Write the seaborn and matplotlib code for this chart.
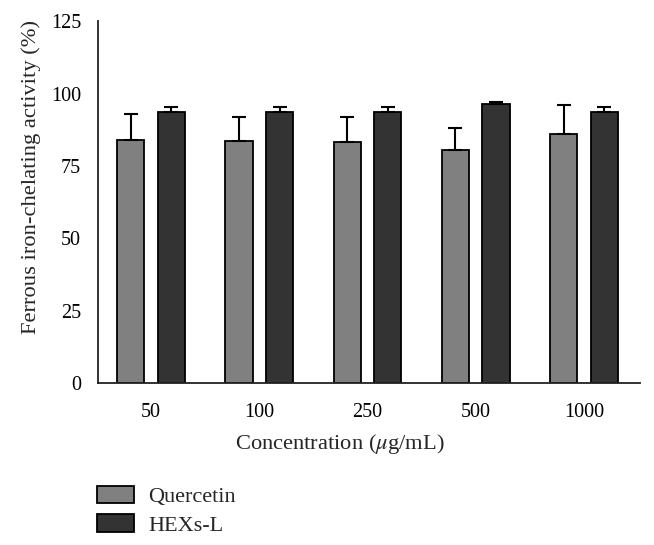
import numpy as np
import pandas as pd
import matplotlib
matplotlib.use("Agg")
import matplotlib.pyplot as plt
import seaborn as sns

concentrations = ["50", "100", "250", "500", "1000"]
quercetin = [84.1, 83.6, 83.4, 80.7, 85.9]
quercetin_sd = [8.9, 8.2, 8.4, 7.4, 10.3]
hexs_l = [93.5, 93.5, 93.5, 96.5, 93.5]
hexs_l_sd = [1.9, 1.9, 1.9, 0.7, 1.9]
groups = ["Quercetin", "HEXs-L"]

df = pd.DataFrame({
    "Concentration": concentrations * 2,
    "Group": ["Quercetin"] * 5 + ["HEXs-L"] * 5,
    "Value": quercetin + hexs_l,
})

sns.set_style("white")
plt.rcParams["font.family"] = ["Liberation Serif", "DejaVu Serif"]
plt.rcParams["mathtext.fontset"] = "stix"

fig = plt.figure(figsize=(6.54, 5.45), dpi=100)
ax = fig.add_axes([0.150, 0.297, 0.829, 0.664])

sns.barplot(
    data=df,
    x="Concentration",
    y="Value",
    hue="Group",
    order=concentrations,
    hue_order=groups,
    palette=["#808080", "#333333"],
    width=0.75,
    gap=0.33,
    edgecolor="black",
    linewidth=1.3,
    errorbar=None,
    ax=ax,
)

# upward-only error bars
for cont, sd in zip(ax.containers, [quercetin_sd, hexs_l_sd]):
    xs = [p.get_x() + p.get_width() / 2 for p in cont.patches]
    hs = [p.get_height() for p in cont.patches]
    ax.errorbar(
        xs, hs,
        yerr=[np.zeros(len(sd)), sd],
        fmt="none",
        ecolor="black",
        elinewidth=1.5,
        capsize=5.3,
        capthick=1.5,
    )

ax.set_xlim(-0.49, 4.52)
ax.set_ylim(0, 125)
ax.set_yticks([0, 25, 50, 75, 100, 125])

sns.despine(ax=ax)
for s in ["left", "bottom"]:
    ax.spines[s].set_linewidth(1.3)
    ax.spines[s].set_color("#222222")

ax.tick_params(axis="both", direction="out", length=6.8, width=1.3,
               labelsize=14.5, colors="#222222", labelcolor="black")
ax.tick_params(axis="x", pad=7.5)
ax.tick_params(axis="y", pad=5.5)

ax.set_xlabel("Concentration ($\\mu$g/mL)", fontsize=16.2)
ax.set_ylabel("Ferrous iron-chelating activity (%)", fontsize=16.2)
ax.xaxis.set_label_coords(0.445, -0.135)
ax.yaxis.set_label_coords(-0.105, 0.569)

handles, labels = ax.get_legend_handles_labels()
ax.get_legend().remove()
fig.legend(
    handles, labels,
    loc="upper left",
    bbox_to_anchor=(0.148, 0.109),
    frameon=False,
    borderpad=0,
    borderaxespad=0,
    fontsize=16,
    handlelength=1.67,
    handleheight=0.86,
    handletextpad=0.63,
    labelspacing=0.3,
)

fig.savefig("out.png", dpi=100)
